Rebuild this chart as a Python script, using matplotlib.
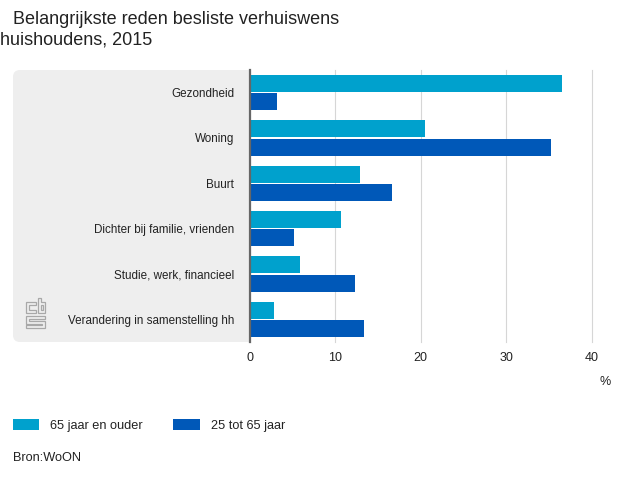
import matplotlib

matplotlib.use("Agg")

import matplotlib.pyplot as plt
import numpy as np
from matplotlib.patches import FancyBboxPatch, PathPatch, Rectangle
from matplotlib.path import Path

categories = [
    "Gezondheid",
    "Woning",
    "Buurt",
    "Dichter bij familie, vrienden",
    "Studie, werk, financieel",
    "Verandering in samenstelling hh",
]
ouder = [36.5, 20.5, 12.9, 10.7, 5.8, 2.8]
jonger = [3.2, 35.3, 16.6, 5.2, 12.3, 13.4]
ticks = [0, 10, 20, 30, 40]

TEAL = "#00a1cd"
BLUE = "#0058b8"
TEXT = "#222222"
WIDTH, HEIGHT = 639, 479

plt.rcParams["font.family"] = ["Liberation Sans", "DejaVu Sans"]

figure = plt.figure(figsize=(WIDTH / 100, HEIGHT / 100), dpi=100)

# overlay in pixel coordinates for panel, logo, legend and titles
overlay = figure.add_axes([0, 0, 1, 1], zorder=0)
overlay.set_xlim(0, WIDTH)
overlay.set_ylim(HEIGHT, 0)
overlay.axis("off")

panel = FancyBboxPatch((19, 76), 225, 260, boxstyle="round,pad=6,rounding_size=7", linewidth=0, facecolor="#eeeeee")
overlay.add_patch(panel)
overlay.add_patch(Rectangle((240, 70), 10, 272, linewidth=0, facecolor="#eeeeee"))

# cbs logo, outlined letters
logo_shapes = [
    [(26, 302), (36, 302), (36, 305), (29, 305), (29, 310), (36, 310), (36, 313), (26, 313)],
    [(38, 298), (41, 298), (41, 302), (45, 302), (45, 313), (38, 313)],
    [(41, 305), (42.5, 305), (42.5, 310), (41, 310)],
    [(26, 316), (45, 316), (45, 319), (29, 319), (29, 321), (45, 321), (45, 328), (26, 328), (26, 325), (42, 325), (42, 323.5), (26, 323.5)],
]
for shape in logo_shapes:
    outline = Path(shape + [shape[0]], closed=True)
    overlay.add_patch(PathPatch(outline, facecolor="none", edgecolor="#a8a8a8", linewidth=0.9, joinstyle="miter"))

overlay.text(13, 24, "Belangrijkste reden besliste verhuiswens", fontsize=13, color=TEXT, va="baseline", ha="left")
overlay.text(0, 44.5, "huishoudens, 2015", fontsize=13, color=TEXT, va="baseline", ha="left")

overlay.add_patch(Rectangle((13, 419), 26, 11, linewidth=0, facecolor=TEAL))
overlay.text(50, 429, "65 jaar en ouder", fontsize=9.2, color=TEXT, va="baseline")
overlay.add_patch(Rectangle((173, 419), 27, 11, linewidth=0, facecolor=BLUE))
overlay.text(211, 429, "25 tot 65 jaar", fontsize=9.2, color=TEXT, va="baseline")
overlay.text(13, 461, "Bron:WoON", fontsize=9.2, color=TEXT, va="baseline")
overlay.text(605, 385, "%", fontsize=9, color=TEXT, va="baseline", ha="center")

# the bar chart itself, 0 at x=250 and 40 at x=591.5
left, right, top, bottom = 250, 591.5, 70, 342
axis = figure.add_axes([left / WIDTH, 1 - bottom / HEIGHT, (right - left) / WIDTH, (bottom - top) / HEIGHT], zorder=1)
axis.patch.set_alpha(0)

positions = np.arange(len(categories))
bar_height = 0.375
axis.barh(positions - 0.2, ouder, height=bar_height, color=TEAL, zorder=3)
axis.barh(positions + 0.2, jonger, height=bar_height, color=BLUE, zorder=3)

axis.set_xlim(0, 40)
axis.set_ylim(len(categories) - 0.5, -0.5)
axis.set_xticks(ticks)
axis.set_yticks(positions)
axis.set_yticklabels(categories, fontsize=8.4)
axis.grid(axis="x", color="#d6d6d6", linewidth=0.8, zorder=0, clip_on=False)
axis.set_axisbelow(True)
axis.tick_params(axis="both", length=0, labelcolor=TEXT)
axis.tick_params(axis="x", pad=7, labelsize=9)
axis.tick_params(axis="y", pad=11.5)
for name in ("top", "right", "bottom"):
    axis.spines[name].set_visible(False)
axis.spines["left"].set_color("#666666")
axis.spines["left"].set_linewidth(1.6)
axis.spines["left"].set_zorder(4)

figure.savefig("out.png", dpi=100)
